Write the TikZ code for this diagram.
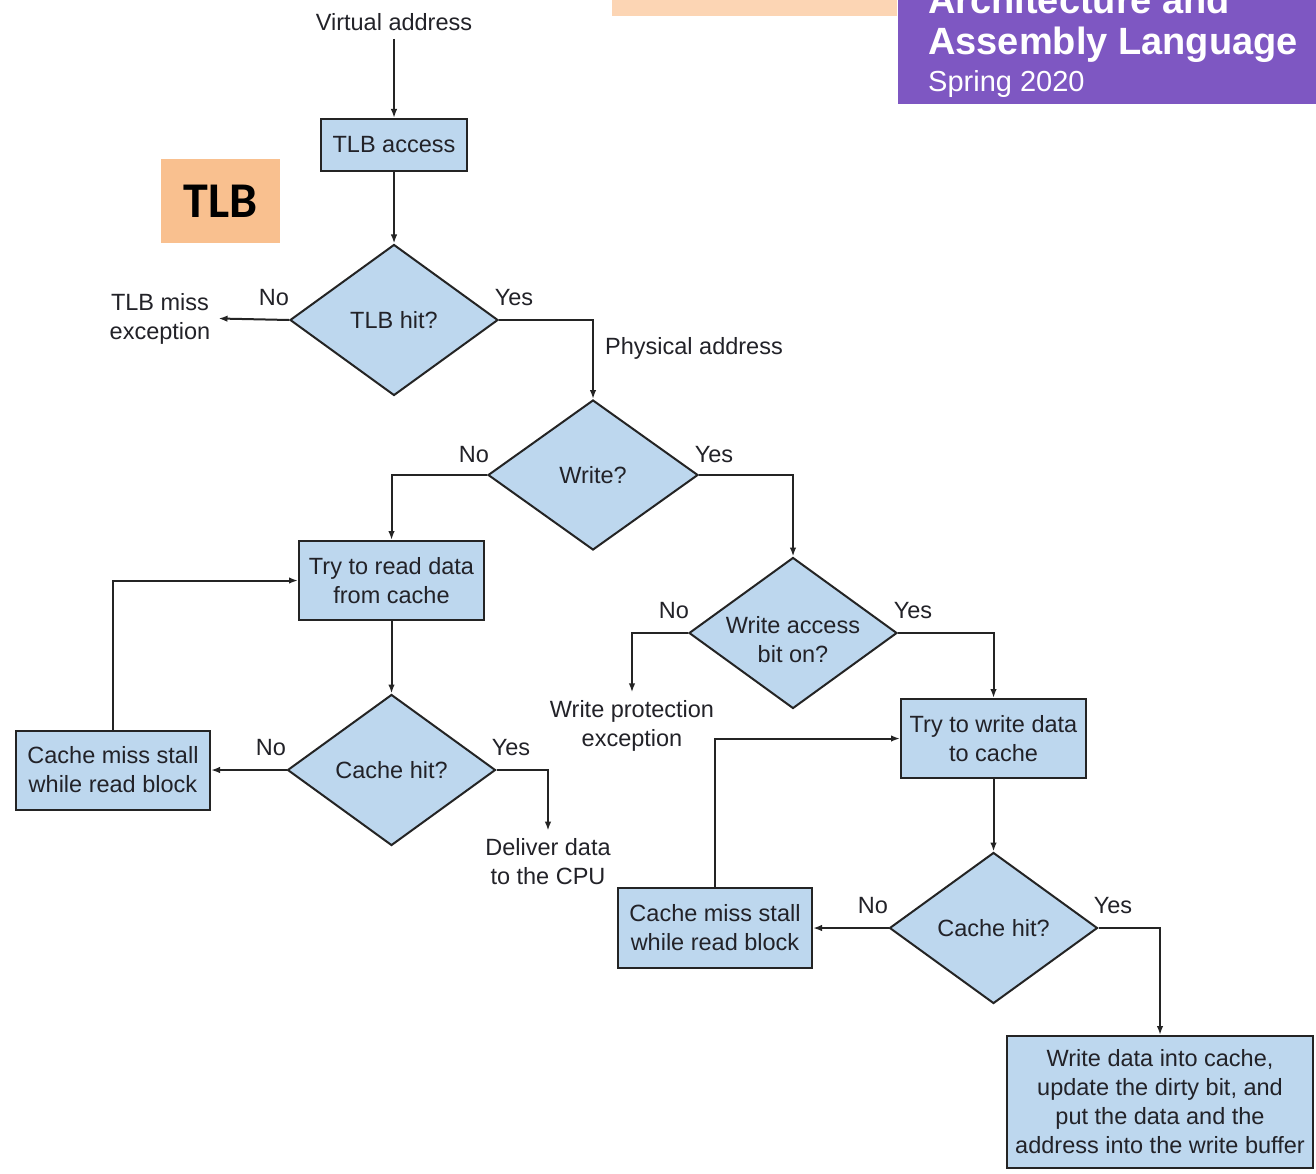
\documentclass[tikz,border=0pt]{standalone}
\usepackage{fontspec}
\setmainfont{Liberation Sans}
\newfontfamily\calfont{Carlito}
\usetikzlibrary{shapes.geometric,arrows.meta}

\definecolor{boxblue}{RGB}{189,215,238}
\definecolor{edge}{RGB}{36,36,36}
\definecolor{ink}{RGB}{34,34,40}
\definecolor{peach}{RGB}{249,192,143}
\definecolor{peachlight}{RGB}{252,213,180}
\definecolor{banner}{RGB}{126,87,194}

\begin{document}
\begin{tikzpicture}[x=1pt,y=-1pt,
  every node/.style={font=\fontsize{23.5}{29}\selectfont, text=ink},
  procbox/.style={draw=edge, line width=2pt, fill=boxblue, rectangle,
    inner sep=0pt, align=center},
  decision/.style={draw=edge, line width=2pt, fill=boxblue, diamond,
    aspect=1.38, inner sep=0pt, align=center,
    minimum width=208pt, minimum height=151pt},
  plain/.style={align=center, inner sep=8pt},
  tag/.style={inner sep=0pt},
  flow/.style={draw=edge, line width=2pt, -{Latex[length=9pt,width=6.5pt]}},
]
\useasboundingbox (0,0) rectangle (1316,1174);
\fill[white] (0,0) rectangle (1316,1174);

% course banner in the top right corner
\begin{scope}
  \clip (0,0) rectangle (1316,1174);
  \fill[peachlight] (612,0) rectangle (897,16);
  \fill[banner] (898,0) rectangle (1316,104);
  \node[anchor=base west, inner sep=0pt, text=white,
        font=\bfseries\fontsize{38}{40}\selectfont] (course1) at (928,14) {Architecture and};
  \node[anchor=base west, inner sep=0pt, text=white,
        font=\bfseries\fontsize{38}{40}\selectfont] (course2) at (928,55) {Assembly Language};
  \node[anchor=base west, inner sep=0pt, text=white,
        font=\fontsize{29}{32}\selectfont] (term) at (928,92) {Spring 2020};
\end{scope}

% section tag
\node[fill=peach, minimum width=119pt, minimum height=84pt, inner sep=0pt,
      text=black, font=\calfont\bfseries\fontsize{50}{50}\selectfont] (tlbtag) at (220.5,201) {TLB};

% flowchart nodes
\node[plain] (va) at (394,22) {Virtual address};
\node[procbox, minimum width=146pt, minimum height=52pt] (tlba) at (394,145) {TLB access};
\node[decision] (tlbhit) at (394,320) {TLB hit?};
\node[plain] (tlbmiss) at (160,318.5) {TLB miss\\exception};
\node[tag, anchor=west] (phys) at (605,348) {Physical address};

\node[decision, minimum width=210pt, minimum height=150pt] (write) at (593,475) {Write?};
\node[procbox, minimum width=185pt, minimum height=79pt] (tryread) at (391.5,580.5) {Try to read data\\from cache};
\node[decision] (wacc) at (793,633) {};
\node[tag, align=center] (wacctext) at (793,640) {Write access\\bit on?};
\node[plain] (wprot) at (632,726) {Write protection\\exception};
\node[procbox, minimum width=185pt, minimum height=79pt] (trywrite) at (993.5,738.5) {Try to write data\\to cache};

\node[decision] (chit1) at (391.5,770) {Cache hit?};
\node[procbox, minimum width=194pt, minimum height=79pt] (miss1) at (113,770) {Cache miss stall\\while read block};
\node[plain] (deliver) at (548,862) {Deliver data\\to the CPU};

\node[decision] (chit2) at (993.5,928) {Cache hit?};
\node[procbox, minimum width=194pt, minimum height=80pt] (miss2) at (715,928) {Cache miss stall\\while read block};
\node[procbox, minimum width=306pt, minimum height=132pt] (wdata) at (1160,1102)
  {Write data into cache,\\update the dirty bit, and\\put the data and the\\address into the write buffer};

% branch labels
\node[tag] (n1) at (274,298) {No};
\node[tag] (y1) at (514,298) {Yes};
\node[tag] (n2) at (474,455) {No};
\node[tag] (y2) at (714,455) {Yes};
\node[tag] (n3) at (674,611) {No};
\node[tag] (y3) at (913,611) {Yes};
\node[tag] (n4) at (271,748) {No};
\node[tag] (y4) at (511,748) {Yes};
\node[tag] (n5) at (873,906) {No};
\node[tag] (y5) at (1113,906) {Yes};

% connectors
\draw[flow] (va) -- (tlba);
\draw[flow] (tlba) -- (tlbhit);
\draw[flow] (tlbhit.west) -- (tlbmiss.east);
\draw[flow] (tlbhit.east) -| (write.north);
\draw[flow] (write.west) -| (tryread.north);
\draw[flow] (write.east) -| (wacc.north);
\draw[flow] (wacc.west) -| (wprot.north);
\draw[flow] (wacc.east) -| (trywrite.north);
\draw[flow] (tryread) -- (chit1);
\draw[flow] (chit1.west) -- (miss1.east);
\draw[flow] (miss1.north) |- (tryread.west);
\draw[flow] (chit1.east) -| (deliver.north);
\draw[flow] (trywrite) -- (chit2);
\draw[flow] (chit2.west) -- (miss2.east);
\draw[flow] (miss2.north) |- (trywrite.west);
\draw[flow] (chit2.east) -| (wdata.north);
\end{tikzpicture}
\end{document}
